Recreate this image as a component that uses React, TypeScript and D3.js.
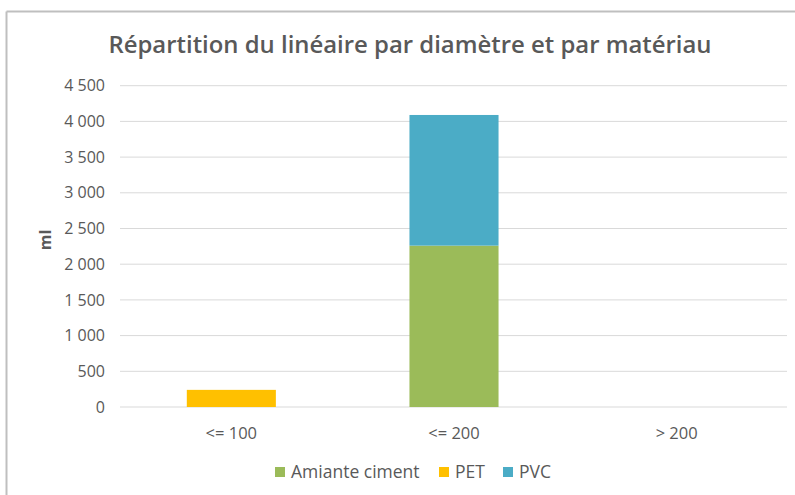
import React from 'react';
import * as d3 from 'd3';

// chart data
const categories = ['<= 100', '<= 200', '> 200'];
const seriesNames = ['Amiante ciment', 'PET', 'PVC'];
const amianteCiment = [0, 2260, 0];
const pet = [240, 0, 0];
const pvc = [0, 1830, 0];
const yTicks = [0, 500, 1000, 1500, 2000, 2500, 3000, 3500, 4000, 4500];
const colors = ['#9BBB59', '#FFC000', '#4BACC6'];

const W = 795;
const H = 495;
const FONT = '"Open Sans", "Noto Sans", sans-serif';

const App = () => {
  const margin = { top: 85.7, right: 7, bottom: 88, left: 120 };
  const plotW = W - margin.left - margin.right;
  const plotH = 407 - margin.top;

  const x = d3.scaleBand<string>()
    .domain(categories)
    .range([margin.left, margin.left + plotW])
    .paddingInner(0.6)
    .paddingOuter(0.3);
  const y = d3.scaleLinear().domain([0, 4500]).range([margin.top + plotH, margin.top]);

  const rows = categories.map((c, i) => ({
    cat: c,
    'Amiante ciment': amianteCiment[i],
    PET: pet[i],
    PVC: pvc[i],
  }));
  const stacked = d3.stack<any>().keys(seriesNames)(rows);

  const fmt = (v: number) => d3.format(',')(v).replace(/,/g, ' ');

  // legend layout
  const legendItems = [
    { name: seriesNames[0], x: 275 },
    { name: seriesNames[1], x: 439 },
    { name: seriesNames[2], x: 503 },
  ];

  return (
    <svg width={W} height={H} style={{ position: 'absolute', left: 0, top: 0, background: '#fff' }}>
      {/* outer border */}
      <line x1={6.5} y1={11.5} x2={W} y2={11.5} stroke="#BFBFBF" strokeWidth={2} />
      <line x1={6.5} y1={11.5} x2={6.5} y2={H} stroke="#BFBFBF" strokeWidth={2} />

      <text x={410} y={53} textAnchor="middle" fontFamily={FONT} fontSize={23.9} fontWeight={600} fill="#595959">
        Répartition du linéaire par diamètre et par matériau
      </text>

      {/* gridlines */}
      {yTicks.map(t => (
        <line key={t} x1={margin.left} x2={margin.left + plotW - 1} y1={y(t)} y2={y(t)} stroke="#D9D9D9" strokeWidth={1} />
      ))}
      {yTicks.map(t => (
        <text key={'l' + t} x={105} y={y(t)} dy="0.35em" textAnchor="end" fontFamily={FONT} fontSize={16} fill="#595959">
          {fmt(t)}
        </text>
      ))}

      <text transform={`translate(51,240) rotate(-90)`} textAnchor="middle" fontFamily={FONT} fontSize={16} fontWeight="bold" fill="#595959">
        ml
      </text>

      {/* bars */}
      {stacked.map((s, si) => (
        <g key={s.key} fill={colors[si]}>
          {s.map((d, i) => (
            d[1] - d[0] > 0 ? (
              <rect key={i} x={x(categories[i])} width={x.bandwidth()} y={y(d[1])} height={y(d[0]) - y(d[1])} />
            ) : null
          ))}
        </g>
      ))}

      {categories.map(c => (
        <text key={c} x={(x(c) as number) + x.bandwidth() / 2} y={433} dy="0.35em" textAnchor="middle" fontFamily={FONT} fontSize={16.5} fill="#595959">
          {c}
        </text>
      ))}

      {/* legend */}
      {legendItems.map((it, i) => (
        <g key={it.name}>
          <rect x={it.x} y={467} width={10} height={10} fill={colors[i]} />
          <text x={it.x + 16} y={472} dy="0.35em" fontFamily={FONT} fontSize={17.5} fill="#595959">
            {it.name}
          </text>
        </g>
      ))}
    </svg>
  );
};

export default App;
